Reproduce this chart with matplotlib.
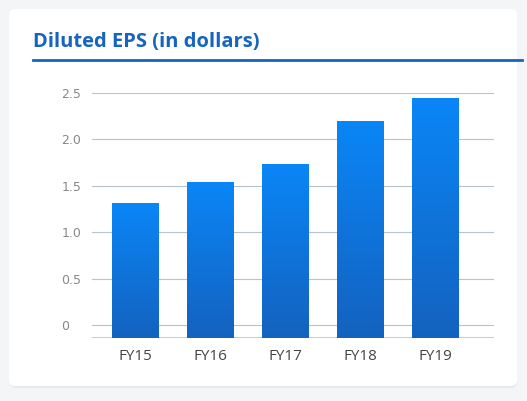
import matplotlib
matplotlib.use("Agg")
import matplotlib.pyplot as plt
import numpy as np
from matplotlib.patches import FancyBboxPatch
from matplotlib.colors import LinearSegmentedColormap

categories = ["FY15", "FY16", "FY17", "FY18", "FY19"]
values = [1.31, 1.54, 1.73, 2.20, 2.45]
yticks = [0, 0.5, 1.0, 1.5, 2.0, 2.5]
ytick_labels = ["0", "0.5", "1.0", "1.5", "2.0", "2.5"]

W, H = 527, 401
fig = plt.figure(figsize=(W/100, H/100), dpi=100)
fig.patch.set_facecolor("#f4f5f7")
bg = fig.add_axes([0, 0, 1, 1]); bg.set_xlim(0, W); bg.set_ylim(H, 0); bg.axis("off")
bg.add_patch(FancyBboxPatch((10, 12), 507, 376, boxstyle="round,pad=0,rounding_size=6",
                            fc="#e6e8eb", ec="none"))
bg.add_patch(FancyBboxPatch((9, 9), 508, 377, boxstyle="round,pad=0,rounding_size=6",
                            fc="white", ec="none"))
bg.text(33, 42, "Diluted EPS (in dollars)", color="#1565c0", fontsize=14.5,
        fontweight="bold", family="Open Sans", va="center", ha="left")
bg.plot([33, 522], [60, 60], color="#1565c0", lw=2)

ax = fig.add_axes([92/W, 1-338/H, (494-92)/W, (338-93)/H])
ax.set_xlim(-0.58, 4.78)
ax.set_ylim(-0.14, 2.5)
ax.set_facecolor("none")
for s in ax.spines.values(): s.set_visible(False)
ax.set_yticks(yticks); ax.set_yticklabels(ytick_labels)
ax.tick_params(axis="y", length=0, colors="#888888", labelsize=9, pad=22)
ax.tick_params(axis="x", length=0, colors="#444444", labelsize=11, pad=8)
for lbl in ax.get_yticklabels(): lbl.set_horizontalalignment("left")
ax.grid(axis="y", color="#b7c2cc", lw=0.8)
ax.axhline(-0.14, color="#b7c2cc", lw=1.2)
ax.set_xticks(range(len(categories))); ax.set_xticklabels(categories, family="Open Sans")
cmap = LinearSegmentedColormap.from_list("g", ["#1462bf", "#0a86f7"])
grad = np.linspace(0, 1, 256).reshape(-1, 1)
bars = ax.bar(range(len(categories)), values, width=0.62, bottom=0, color="none")
for i, (b, v) in enumerate(zip(bars, values)):
    b.set_y(-0.14); b.set_height(v + 0.14)
    im = ax.imshow(grad, cmap=cmap, origin="lower", aspect="auto",
                   extent=[i-0.31, i+0.31, -0.14, v], zorder=2)
    im.set_clip_path(b)
ax.set_xlim(-0.58, 4.78); ax.set_ylim(-0.14, 2.5)
fig.savefig("out.png", dpi=100, facecolor=fig.get_facecolor())
